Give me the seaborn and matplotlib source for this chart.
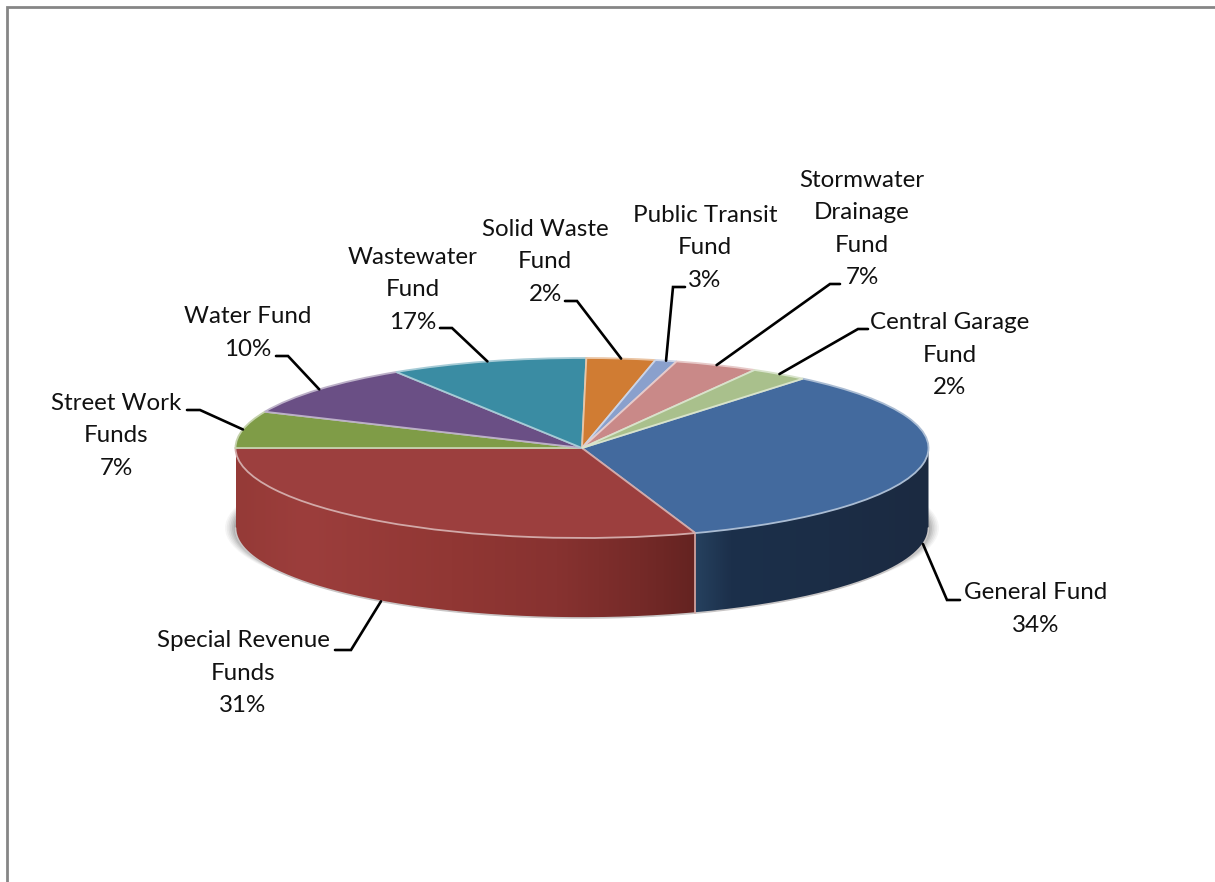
import numpy as np
import matplotlib
matplotlib.use('Agg')
import matplotlib.pyplot as plt
import seaborn as sns
from matplotlib.colors import LinearSegmentedColormap
from matplotlib.patches import Ellipse, PathPatch
from matplotlib.path import Path

# Slice order runs clockwise from General Fund
funds = ['General Fund', 'Special Revenue\nFunds', 'Street Work\nFunds', 'Water Fund',
         'Wastewater\nFund', 'Solid Waste\nFund', 'Public Transit\nFund',
         'Stormwater\nDrainage\nFund', 'Central Garage\nFund']
# the printed percents do not match the drawn slices (they add up to 113), so keep both
printed_pct = [34, 31, 7, 10, 17, 2, 3, 7, 2]
drawn_share = [33.7, 30.3, 6.6, 9.4, 9.2, 3.2, 1.0, 3.9, 2.7]
slice_colors = ['#436a9e', '#9c3f3e', '#7f9c47', '#6a4f85', '#3a8ca3',
                '#d07c33', '#8aa0cc', '#c98988', '#a9c08c']

# Label layout in image pixels
label_x = [1036, 243, 116, 248, 413, 545, 705, 862, 950]
label_y = [609, 673, 436, 333, 290, 262, 248, 229, 355]
elbow_x = [947, 351, 200, 288, 452, 577, 673, 830, 858]
elbow_y = [600, 650, 410, 356, 328, 301, 287, 284, 329]
end_x = [960, 335, 187, 276, 440, 565, 685, 840, 868]

# Pie geometry in image pixels
W, H = 1215, 882
cx, cy = 582, 448
rx, ry = 346.5, 90
depth = 80

sns.set_theme(style='white')
plt.rcParams['font.family'] = ['Lato', 'DejaVu Sans']

fig = plt.figure(figsize=(W / 100, H / 100), dpi=100, facecolor='white')

# Axes where the pie radius 1 is the ellipse: x unit = rx, y unit = ry
ax = fig.add_axes([0, 0, 1, 1])
palette = sns.color_palette(slice_colors)
wedges, _ = ax.pie(drawn_share, colors=palette, startangle=50.4, counterclock=False,
                   radius=1, wedgeprops={'zorder': 5, 'linewidth': 1.3})
xlim = (-cx / rx, (W - cx) / rx)
ylim = ((cy - H) / ry, cy / ry)
d = depth / ry

# light rim on every slice
for w, c in zip(wedges, palette):
    w.set_edgecolor(tuple(0.45 * np.array(c) + 0.55))

# soft shadow under the disc, only peeks out at the sides
for grow, a in zip(np.linspace(1.03, 1.0, 7), [0.05, 0.06, 0.07, 0.09, 0.11, 0.13, 0.15]):
    ax.add_patch(Ellipse((0, -d), 2 * grow, 1.9, color='#404040', alpha=a, lw=0, zorder=1))

wall_maps = {
    0: [(0, '#26415f'), (0.15, '#1c304b'), (1, '#1b2a41')],
    1: [(0, '#953a37'), (0.15, '#9c3e3c'), (0.47, '#913734'), (0.7, '#873230'),
        (0.88, '#752a28'), (1, '#642321')],
}

# side wall: the part of each slice on the front half of the disc
for i, w in enumerate(wedges):
    t1 = max(w.theta1, -180)
    t2 = min(w.theta2, 0)
    if t2 <= t1:
        continue
    t = np.radians(np.linspace(t1, t2, 200))
    xs = np.cos(t)
    ys = np.sin(t)
    verts = np.vstack([np.column_stack([xs, ys]),
                       np.column_stack([xs[::-1], ys[::-1] - d])])
    wall = Path(np.vstack([verts, verts[0]]), closed=True)
    cmap = LinearSegmentedColormap.from_list('wall', wall_maps[i])
    im = ax.imshow(np.linspace(0, 1, 256)[None, :], cmap=cmap, aspect='auto', zorder=2,
                   extent=[xs.min(), xs.max(), -2.5, 1])
    im.set_clip_path(PathPatch(wall, transform=ax.transData))
    # lower rim of the wall
    ax.plot(xs, ys - d, color='#c9c6c6', lw=1.2, zorder=3)

# seam between the two walls
front = np.radians(wedges[0].theta1)
ax.plot([np.cos(front)] * 2, [np.sin(front), np.sin(front) - d], color='#d9a9a5', lw=1.2, zorder=3)
ax.set(xlim=xlim, ylim=ylim, aspect='auto')
ax.set_axis_off()

# Overlay in image pixels for the frame, labels and leader lines
ov = fig.add_axes([0, 0, 1, 1], facecolor='none')
ov.set(xlim=(0, W), ylim=(H, 0))
ov.set_axis_off()
ov.plot([6.5, 6.5, W], [H, 7.3, 7.3], color='#868686', lw=2.0, solid_joinstyle='miter')

for i, w in enumerate(wedges):
    mid = np.radians((w.theta1 + w.theta2) / 2)
    ax0 = cx + rx * np.cos(mid)
    ay0 = cy - ry * np.sin(mid)
    if np.sin(mid) < 0:
        ay0 += depth
    ov.plot([ax0, elbow_x[i], end_x[i]], [ay0, elbow_y[i], elbow_y[i]], color='black', lw=1.9,
            solid_joinstyle='miter', zorder=6)
    ov.text(label_x[i], label_y[i], f'{funds[i]}\n{printed_pct[i]}%', ha='center', va='center',
            fontsize=17.4, color='#111111', linespacing=1.67, zorder=7)

fig.savefig('out.png', dpi=100, facecolor='white')
